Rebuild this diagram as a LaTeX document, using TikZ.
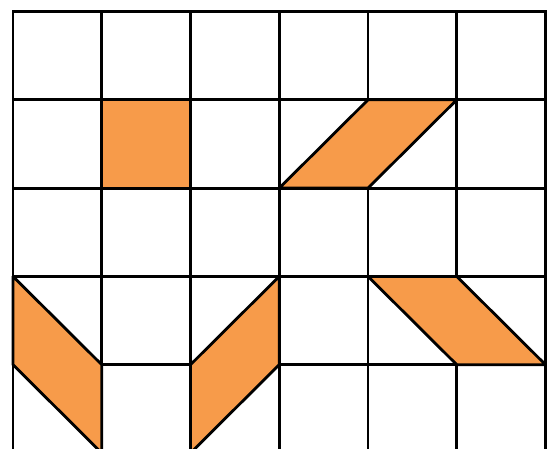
\documentclass[tikz,border=0pt]{standalone}
\definecolor{tile}{RGB}{247,155,74}
\begin{document}
\begin{tikzpicture}[x=1pt,y=-1pt,
  gridline/.style={line width=2.8pt,black},
  tileshape/.style={fill=tile,draw=black,line width=2.8pt,line join=round}]
\useasboundingbox (0,0) rectangle (549,448);
\clip (0,0) rectangle (549,448);
\fill[white] (0,0) rectangle (549,448);
% grid geometry
\def\xo{13}\def\yo{11.5}\def\cw{88.75}\def\ch{88.3}
\foreach \i in {0,...,6} {
  \foreach \j in {0,...,5} {
    \coordinate (p\i-\j) at ({\xo+\i*\cw},{\yo+\j*\ch});
  }
}
% grid
\foreach \i in {0,...,6} {\draw[gridline] (p\i-0) -- (p\i-5);}
\foreach \j in {0,...,4} {\draw[gridline,line cap=rect] (p0-\j) -- (p6-\j);}
% tiles
\draw[tileshape] (p1-1) rectangle (p2-2);
\draw[tileshape] (p3-2) -- (p4-2) -- (p5-1) -- (p4-1) -- cycle;
\draw[tileshape] (p0-3) -- (p1-4) -- (p1-5) -- (p0-4) -- cycle;
\draw[tileshape] (p2-4) -- (p3-3) -- (p3-4) -- (p2-5) -- cycle;
\draw[tileshape] (p4-3) -- (p5-3) -- (p6-4) -- (p5-4) -- cycle;
\end{tikzpicture}
\end{document}
